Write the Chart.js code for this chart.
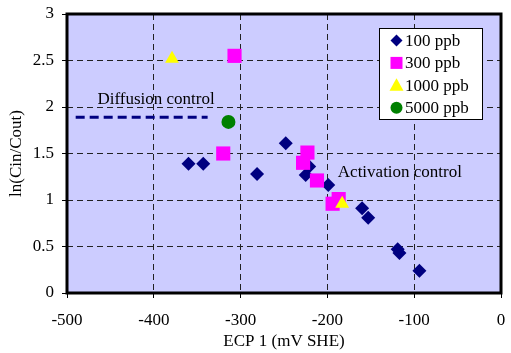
<!DOCTYPE html>
<html>
<head>
<meta charset="utf-8">
<script src="https://cdn.jsdelivr.net/npm/chart.js@4.4.0/dist/chart.umd.min.js"></script>
<style>
  body { margin: 0; background: #fff; }
  #wrap { width: 511px; height: 353px; }
</style>
</head>
<body>
<div id="wrap"><canvas id="chart" width="511" height="353"></canvas></div>
<script>
// values
const seriesLabels = ['100 ppb', '300 ppb', '1000 ppb', '5000 ppb'];
const ecp100 = [-360, -343, -281, -248, -225, -221, -199, -160, -153, -119, -117, -94];
const ln100  = [1.39, 1.39, 1.28, 1.61, 1.27, 1.36, 1.16, 0.91, 0.81, 0.47, 0.43, 0.24];
const ecp300 = [-307, -320, -223, -228, -212, -187, -194];
const ln300  = [2.55, 1.50, 1.51, 1.40, 1.21, 1.01, 0.96];
const ecp1000 = [-379, -183];
const ln1000  = [2.52, 0.96];
const ecp5000 = [-314];
const ln5000  = [1.84];
const diffusionX = [-490, -338];
const diffusionY = [1.89, 1.89];
const xMin = -500, xMax = 0, xStep = 100;
const yMin = 0, yMax = 3, yStep = 0.5;

const FONT = "'Liberation Serif', 'Times New Roman', serif";
const FSIZE = 17;

function pts(xs, ys) {
  return xs.map((x, i) => ({ x: x, y: ys[i] }));
}

const series = [
  { label: seriesLabels[0], data: pts(ecp100, ln100), pointStyle: 'rectRot', pointRadius: 7, color: '#000080', order: 4 },
  { label: seriesLabels[1], data: pts(ecp300, ln300), pointStyle: 'rect', pointRadius: 10, color: '#FF00FF', order: 3 },
  { label: seriesLabels[2], data: pts(ecp1000, ln1000), pointStyle: 'triangle', pointRadius: 8, color: '#FFFF00', order: 2 },
  { label: seriesLabels[3], data: pts(ecp5000, ln5000), pointStyle: 'circle', pointRadius: 7, color: '#008000', order: 1 }
];

const datasets = series.map(s => ({
  type: 'scatter',
  label: s.label,
  data: s.data,
  pointStyle: s.pointStyle,
  pointRadius: s.pointRadius,
  pointHoverRadius: s.pointRadius,
  backgroundColor: s.color,
  borderColor: s.color,
  borderWidth: 0,
  order: s.order
}));

datasets.push({
  type: 'line',
  label: 'diffusion',
  data: pts(diffusionX, diffusionY),
  borderColor: '#000080',
  borderWidth: 3,
  borderDash: [9, 5],
  pointRadius: 0,
  fill: false,
  order: 5
});

// plot background + frame
const framePlugin = {
  id: 'frame',
  beforeDraw(chart) {
    const { ctx, chartArea: a } = chart;
    ctx.save();
    ctx.fillStyle = '#CCCCFF';
    ctx.fillRect(a.left, a.top, a.right - a.left, a.bottom - a.top);
    ctx.restore();
  },
  beforeDatasetsDraw(chart) {
    const { ctx, chartArea: a } = chart;
    ctx.save();
    ctx.strokeStyle = '#000';
    ctx.lineWidth = 3;
    ctx.strokeRect(a.left, a.top, a.right - a.left, a.bottom - a.top);
    ctx.restore();
  }
};

// texts on the plot and the legend box
const notesPlugin = {
  id: 'notes',
  afterDatasetsDraw(chart) {
    const { ctx } = chart;
    const xs = chart.scales.x, ys = chart.scales.y;
    ctx.save();
    ctx.fillStyle = '#000';
    ctx.font = FSIZE + 'px ' + FONT;
    ctx.textBaseline = 'middle';
    ctx.textAlign = 'left';
    ctx.fillText('Diffusion control', xs.getPixelForValue(-465), ys.getPixelForValue(2.08));
    ctx.fillText('Activation control', xs.getPixelForValue(-188), ys.getPixelForValue(1.30));

    // legend
    const bx = 379, by = 28, bw = 103, bh = 91;
    ctx.fillStyle = '#fff';
    ctx.fillRect(bx, by, bw, bh);
    ctx.strokeStyle = '#000';
    ctx.lineWidth = 1;
    ctx.strokeRect(bx + 0.5, by + 0.5, bw, bh);
    series.forEach((s, i) => {
      const cy = 40.5 + i * 22.4;
      const cx = 396.5;
      ctx.fillStyle = s.color;
      ctx.beginPath();
      if (s.pointStyle === 'rectRot') {
        ctx.moveTo(cx - 6, cy); ctx.lineTo(cx, cy - 6); ctx.lineTo(cx + 6, cy); ctx.lineTo(cx, cy + 6);
      } else if (s.pointStyle === 'rect') {
        ctx.rect(cx - 6, cy - 6, 12, 12);
      } else if (s.pointStyle === 'triangle') {
        ctx.moveTo(cx, cy - 7); ctx.lineTo(cx + 7, cy + 5.5); ctx.lineTo(cx - 7, cy + 5.5);
      } else {
        ctx.arc(cx, cy, 6, 0, Math.PI * 2);
      }
      ctx.closePath();
      ctx.fill();
      ctx.fillStyle = '#000';
      ctx.font = FSIZE + 'px ' + FONT;
      ctx.fillText(s.label, 405, cy + 1);
    });
    ctx.restore();
  }
};

new Chart(document.getElementById('chart'), {
  data: { datasets: datasets },
  options: {
    responsive: false,
    animation: false,
    layout: { padding: { top: 14, right: 10, bottom: 0, left: 0 } },
    plugins: {
      legend: { display: false },
      tooltip: { enabled: false }
    },
    scales: {
      x: {
        type: 'linear',
        min: xMin, max: xMax,
        ticks: { stepSize: xStep, color: '#000', font: { family: FONT, size: FSIZE }, padding: 12, callback: v => String(v) },
        grid: { color: '#222', lineWidth: 1, tickColor: '#000', tickLength: 5, tickBorderDash: [] },
        border: { display: false, dash: [6, 4] },
        title: { display: true, text: 'ECP 1 (mV SHE)', color: '#000', font: { family: FONT, size: FSIZE }, padding: { top: 0, bottom: 1 } },
        afterFit(scale) { scale.height = 60; scale.paddingLeft = 0; scale.paddingRight = 0; }
      },
      y: {
        type: 'linear',
        min: yMin, max: yMax,
        ticks: { stepSize: yStep, color: '#000', font: { family: FONT, size: FSIZE }, padding: 8, callback: v => String(v) },
        grid: { color: '#222', lineWidth: 1, tickColor: '#000', tickLength: 5, tickBorderDash: [] },
        border: { display: false, dash: [6, 4] },
        title: { display: true, text: 'ln(Cin/Cout)', color: '#000', font: { family: FONT, size: FSIZE }, padding: { top: 6, bottom: 0 } },
        afterFit(scale) { scale.width = 67; scale.paddingTop = 0; scale.paddingBottom = 0; }
      }
    }
  },
  plugins: [framePlugin, notesPlugin]
});
</script>
</body>
</html>
